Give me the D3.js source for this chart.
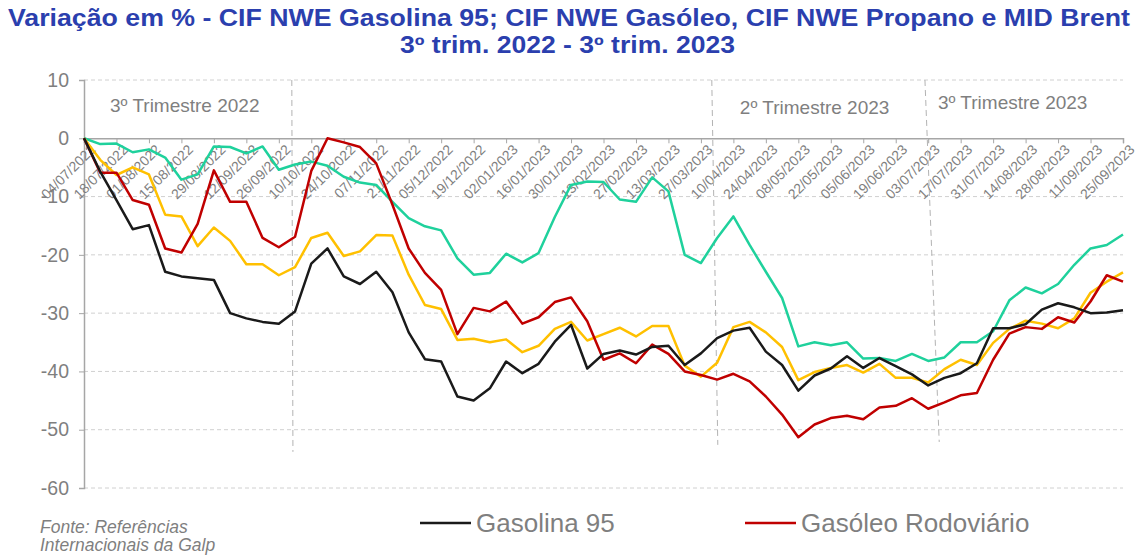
<!DOCTYPE html>
<html>
<head>
<meta charset="utf-8">
<script src="https://cdn.jsdelivr.net/npm/d3@7"></script>
<style>
  body { margin: 0; background: #fff; }
  text { font-family: "Liberation Sans", Arial, sans-serif; }
</style>
</head>
<body>
<div id="chart"></div>
<script>
// tick labels (every second week)
const tickLabels = ["04/07/2022","18/07/2022","01/08/2022","15/08/2022","29/08/2022","12/09/2022","26/09/2022",
  "10/10/2022","24/10/2022","07/11/2022","21/11/2022","05/12/2022","19/12/2022","02/01/2023","16/01/2023",
  "30/01/2023","13/02/2023","27/02/2023","13/03/2023","27/03/2023","10/04/2023","24/04/2023","08/05/2023",
  "22/05/2023","05/06/2023","19/06/2023","03/07/2023","17/07/2023","31/07/2023","14/08/2023","28/08/2023",
  "11/09/2023","25/09/2023"];

// weekly % variation since 04/07/2022
const gasolina = [0,-5.7,-10.6,-15.6,-14.9,-22.9,-23.7,-24.0,-24.3,-30.0,-30.9,-31.5,-31.8,-29.7,-21.5,-18.9,
  -23.7,-25.0,-22.9,-26.4,-33.3,-37.9,-38.3,-44.3,-45.0,-42.9,-38.3,-40.3,-38.7,-34.9,-32.0,-39.5,
  -37.0,-36.4,-37.1,-35.8,-35.6,-38.9,-36.9,-34.3,-33.0,-32.5,-36.6,-38.9,-43.3,-40.7,-39.5,-37.4,
  -39.4,-37.7,-39.1,-40.5,-42.4,-41.1,-40.3,-38.6,-32.6,-32.6,-31.9,-29.4,-28.3,-29.0,-30.0,-29.9,-29.5];
const gasoleo = [0,-5.9,-5.9,-10.6,-11.4,-18.9,-19.6,-14.7,-5.5,-10.9,-10.9,-17.1,-18.7,-16.9,-5.6,0,
  -0.7,-1.5,-4.3,-11.4,-18.9,-23.1,-26.0,-33.6,-29.1,-29.7,-28.0,-31.8,-30.7,-28.1,-27.3,-31.4,
  -38.0,-36.9,-38.6,-35.4,-37.0,-40.0,-40.6,-41.4,-40.4,-41.7,-44.3,-47.4,-51.3,-49.1,-48.0,-47.6,
  -48.2,-46.2,-45.9,-44.6,-46.4,-45.3,-44.1,-43.7,-38.0,-33.5,-32.4,-32.7,-30.7,-31.6,-28.0,-23.5,-24.6];
const brent = [0,-3.7,-6.3,-5.0,-6.2,-13.1,-13.4,-18.5,-15.3,-17.6,-21.6,-21.6,-23.5,-22.1,-17.1,-16.2,
  -20.2,-19.4,-16.6,-16.7,-23.4,-28.6,-29.3,-34.6,-34.4,-35.0,-34.5,-36.7,-35.6,-32.7,-31.5,-34.7,
  -33.6,-32.5,-34.0,-32.2,-32.2,-39.0,-40.9,-38.5,-32.4,-31.5,-33.3,-35.8,-41.5,-40.1,-39.4,-38.9,
  -40.2,-38.7,-41.1,-41.1,-41.9,-39.6,-38.0,-38.9,-35.1,-32.7,-31.3,-31.8,-32.6,-30.9,-26.5,-24.6,-23.0];
const propano = [0,-1.0,-0.9,-2.4,-1.9,-3.3,-7.1,-6.2,-1.4,-1.5,-2.6,-1.4,-5.4,-4.5,-4.0,-4.7,
  -6.6,-7.6,-8.0,-10.9,-13.7,-15.1,-15.8,-20.6,-23.4,-23.1,-19.8,-21.3,-19.7,-13.5,-8.0,-7.4,
  -7.5,-10.5,-10.9,-6.7,-9.1,-20.0,-21.4,-17.1,-13.4,-18.3,-22.9,-27.4,-35.7,-35.0,-35.5,-35.0,
  -37.8,-37.7,-38.2,-37.0,-38.2,-37.6,-35.0,-35.0,-33.1,-27.8,-25.6,-26.6,-25.0,-21.7,-18.9,-18.3,-16.5];

const yTicks = [10, 0, -10, -20, -30, -40, -50, -60];

// quarter separators (week index at top / bottom, bottom value)
const quarterLines = [
  { x0: 12.8, x1: 12.87, bottom: -53.8 },
  { x0: 38.67, x1: 39.04, bottom: -52.6 },
  { x0: 51.8, x1: 52.68, bottom: -52.1 }
];
const quarterLabels = [
  { label: "3º Trimestre 2022", x: 1.6, y: 4.5 },
  { label: "2º Trimestre 2023", x: 40.4, y: 4.2 },
  { label: "3º Trimestre 2023", x: 52.6, y: 5.0 }
];

const series = [
  { name: "Propano", values: propano, colour: "#1fd19c" },
  { name: "Brent", values: brent, colour: "#ffc000" },
  { name: "Gasóleo Rodoviário", values: gasoleo, colour: "#c00000" },
  { name: "Gasolina 95", values: gasolina, colour: "#1a1a1a" }
];

const width = 1137;
const height = 558;
const grey = "#7f7f7f";

const svg = d3.select("#chart").append("svg")
  .attr("width", width)
  .attr("height", height);

const x = d3.scaleLinear().domain([0, 64]).range([84, 1123]);
const y = d3.scaleLinear().domain([-60, 10]).range([488, 80]);

// title (stretched to the width of the original)
svg.append("text")
  .attr("x", 8).attr("y", 26)
  .attr("font-size", 23).attr("font-weight", "bold")
  .attr("fill", "#2b3fae")
  .attr("textLength", 1122).attr("lengthAdjust", "spacingAndGlyphs")
  .text("Variação em % - CIF NWE Gasolina 95; CIF NWE Gasóleo, CIF NWE Propano e MID Brent");
svg.append("text")
  .attr("x", 400).attr("y", 53)
  .attr("font-size", 23).attr("font-weight", "bold")
  .attr("fill", "#2b3fae")
  .attr("textLength", 335).attr("lengthAdjust", "spacingAndGlyphs")
  .text("3º trim. 2022 - 3º trim. 2023");

// gridlines
svg.append("g").selectAll("line")
  .data(yTicks.filter((d) => d !== 0))
  .enter().append("line")
  .attr("x1", x(0)).attr("x2", x(64))
  .attr("y1", (d) => y(d)).attr("y2", (d) => y(d))
  .attr("stroke", "#d0d0d0")
  .attr("stroke-dasharray", "4,3");

// y axis
const yAxis = svg.append("g")
  .attr("transform", `translate(${x(0)},0)`)
  .call(d3.axisLeft(y).tickValues(yTicks).tickSize(5).tickPadding(10).tickFormat((d) => String(d)));
yAxis.select(".domain").attr("stroke", "#a6a6a6").attr("stroke-width", 1.5);
yAxis.selectAll(".tick line").attr("stroke", "#a6a6a6");
yAxis.selectAll("text").attr("fill", grey).attr("font-size", 19.5)
  .attr("font-family", "Liberation Sans, Arial, sans-serif");

// x axis at zero
const xAxis = svg.append("g")
  .attr("transform", `translate(0,${y(0)})`)
  .call(d3.axisBottom(x)
    .tickValues(d3.range(0, 65, 2))
    .tickSize(5)
    .tickFormat((d) => tickLabels[d / 2]));
xAxis.select(".domain").attr("stroke", "#a6a6a6").attr("stroke-width", 1.5);
xAxis.selectAll(".tick line").attr("stroke", "#a6a6a6");
xAxis.selectAll("text")
  .attr("fill", grey).attr("font-size", 14)
  .attr("font-family", "Liberation Sans, Arial, sans-serif")
  .attr("text-anchor", "end")
  .attr("dy", "0.35em")
  .attr("transform", "translate(3,3) rotate(-45)");

// quarter separators
svg.append("g").selectAll("line")
  .data(quarterLines)
  .enter().append("line")
  .attr("x1", (d) => x(d.x0)).attr("y1", y(10))
  .attr("x2", (d) => x(d.x1)).attr("y2", (d) => y(d.bottom))
  .attr("stroke", "#b3b3b3")
  .attr("stroke-dasharray", "6,4");

svg.append("g").selectAll("text")
  .data(quarterLabels)
  .enter().append("text")
  .attr("x", (d) => x(d.x)).attr("y", (d) => y(d.y))
  .attr("fill", grey).attr("font-size", 19)
  .text((d) => d.label);

// lines
const line = d3.line()
  .x((d, i) => x(i))
  .y((d) => y(d));

svg.append("g").selectAll("path")
  .data(series)
  .enter().append("path")
  .attr("d", (d) => line(d.values))
  .attr("fill", "none")
  .attr("stroke", (d) => d.colour)
  .attr("stroke-width", 2.5)
  .attr("stroke-linejoin", "round");

// legend (only two entries in the original)
const legendItems = [
  { name: "Gasolina 95", colour: "#1a1a1a", x: 420 },
  { name: "Gasóleo Rodoviário", colour: "#c00000", x: 745 }
];
const legend = svg.append("g").selectAll("g")
  .data(legendItems)
  .enter().append("g")
  .attr("transform", (d) => `translate(${d.x},523)`);
legend.append("line")
  .attr("x1", 0).attr("x2", 51)
  .attr("stroke", (d) => d.colour)
  .attr("stroke-width", 2.5);
legend.append("text")
  .attr("x", 56).attr("dy", "0.35em")
  .attr("fill", grey).attr("font-size", 26)
  .text((d) => d.name);

// source note
const note = svg.append("text")
  .attr("fill", grey).attr("font-size", 17.5).attr("font-style", "italic");
note.append("tspan").attr("x", 40).attr("y", 533).text("Fonte: Referências");
note.append("tspan").attr("x", 40).attr("y", 551).text("Internacionais da Galp");
</script>
</body>
</html>
